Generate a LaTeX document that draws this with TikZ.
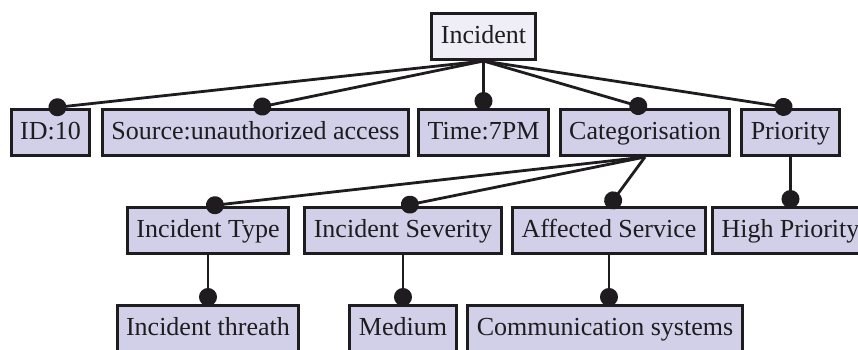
\documentclass[tikz,border=0pt]{standalone}
\usepackage{fontspec}
\setmainfont{Liberation Serif}
\usetikzlibrary{positioning,arrows.meta}

\definecolor{featfill}{RGB}{210,207,232}
\definecolor{rootfill}{RGB}{239,238,247}
\definecolor{ink}{RGB}{30,28,30}

\tikzset{
  feature/.style={draw=ink, line width=1.5pt, fill=featfill, text=ink,
    minimum height=23pt, inner xsep=4.5pt, text height=9pt, text depth=2.5pt,
    font=\fontsize{13}{15}\selectfont},
  rootfeature/.style={feature, fill=rootfill},
  link/.style={draw=ink, line width=1.4pt, -{Circle[length=9pt]}, shorten >=-1pt},
}

\begin{document}
\begin{tikzpicture}[node distance=24.5pt]
  \useasboundingbox (-241.75pt,18.25pt) rectangle (187.25pt,-156.25pt);

  % Define nodes
  \node[rootfeature]                                  (inc)  {Incident};
  \node[feature, below=23.5pt of inc, xshift=-216.5pt] (id)   {ID:10};
  \node[feature, below=23.5pt of inc, xshift=-114pt]   (src)  {Source:unauthorized access};
  \node[feature, below=23.5pt of inc]                  (time) {Time:7PM};
  \node[feature, below=23.5pt of inc, xshift=80.75pt]  (cat)  {Categorisation};
  \node[feature, below=23.5pt of inc, xshift=153.5pt]  (prio) {Priority};

  \node[feature, below=of cat, xshift=-218.5pt]  (type) {Incident Type};
  \node[feature, below=of cat, xshift=-121pt]    (sev)  {Incident Severity};
  \node[feature, below=of cat, xshift=-18pt]     (aff)  {Affected Service};
  \node[feature, below=of prio]                  (high) {High Priority};

  \node[feature, below=of type]                  (threat) {Incident threath};
  \node[feature, below=of sev]                   (med)    {Medium};
  \node[feature, below=of aff, xshift=-2pt]      (comm)   {Communication systems};

  % Connect the nodes
  \draw[link] (inc.south) -- (id.north);
  \draw[link] (inc.south) -- (src.north);
  \draw[link] (inc.south) -- (time.north);
  \draw[link] (inc.south) -- (cat.north);
  \draw[link] (inc.south) -- (prio.north);

  \draw[link] (cat.south) -- (type.north);
  \draw[link] (cat.south) -- (sev.north);
  \draw[link] (cat.south) -- (aff.north);
  \draw[link] (prio.south) -- (high.north);

  \draw[link] (type.south) -- (threat.north);
  \draw[link] (sev.south) -- (med.north);
  \draw[link] (aff.south) -- (aff.south |- comm.north);

\end{tikzpicture}
\end{document}
